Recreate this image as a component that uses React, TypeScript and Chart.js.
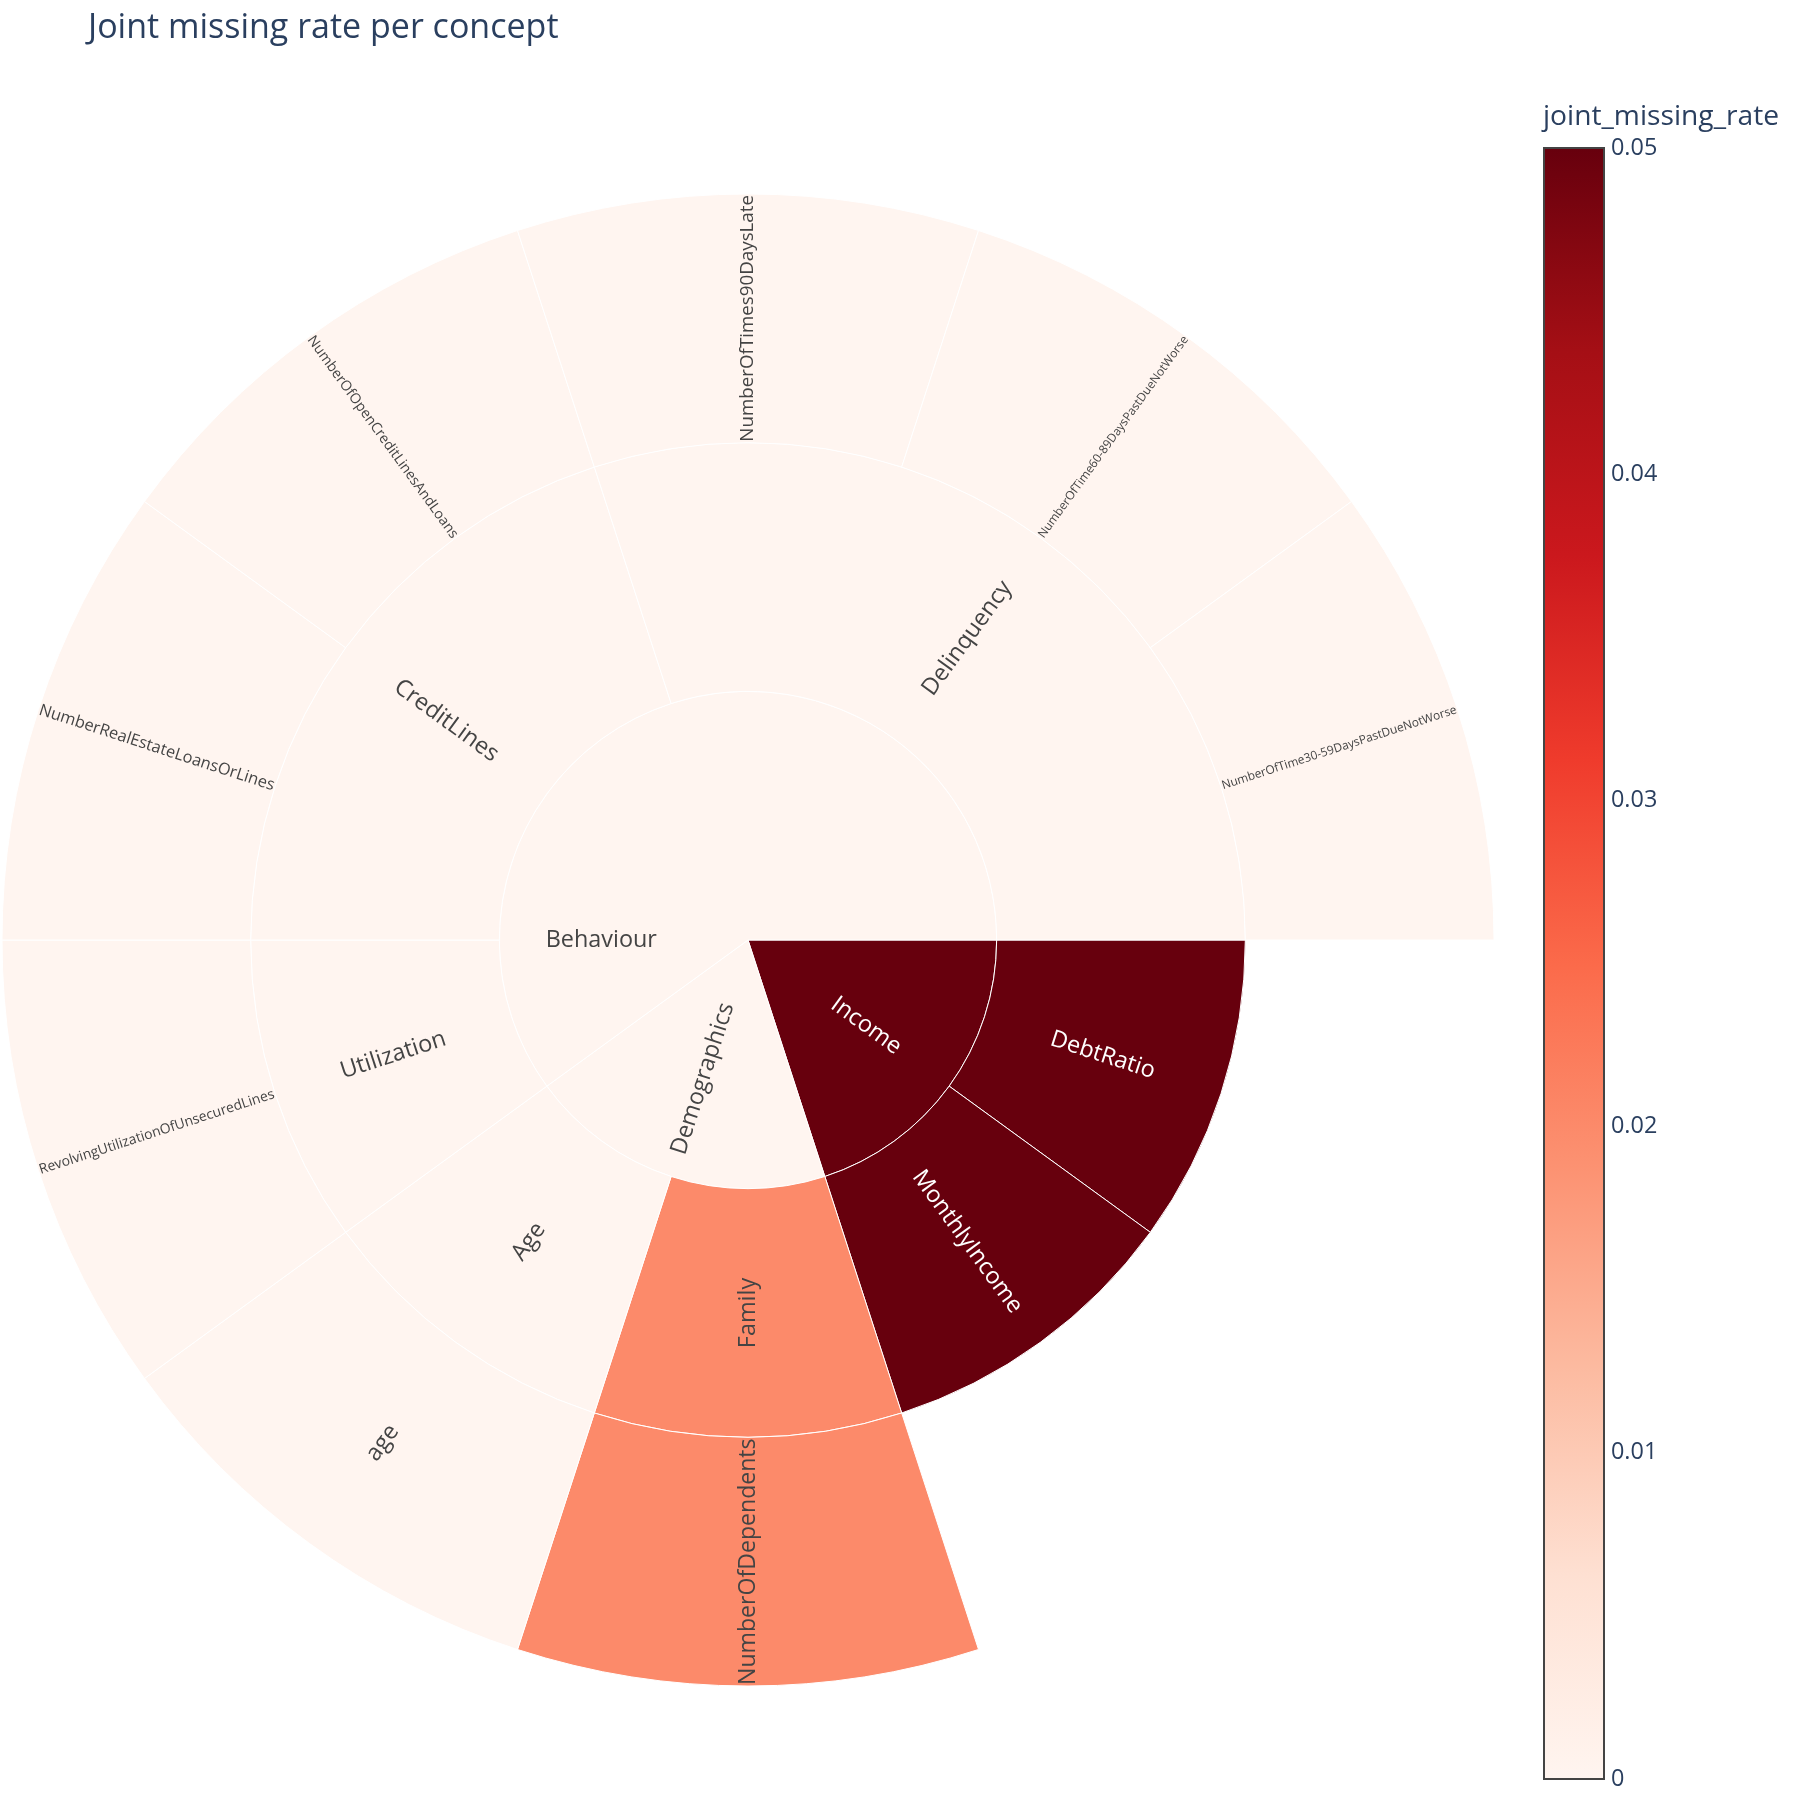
import React, { useEffect, useRef } from "react";
import { Chart, registerables } from "chart.js";

Chart.register(...registerables);

// ---------------- data ----------------
const chartTitle = "Joint missing rate per concept";
const colorbarTitle = "joint_missing_rate";

// innermost ring (top-level groups)
const groupNames = ["Behaviour", "Demographics", "Income"];
const groupRates = [0, 0, 0.05];

// middle ring (concepts) with their parent group
const conceptNames = ["Delinquency", "CreditLines", "Utilization", "Age", "Family", "MonthlyIncome", "DebtRatio"];
const conceptGroups = ["Behaviour", "Behaviour", "Behaviour", "Demographics", "Demographics", "Income", "Income"];
const conceptRates = [0, 0, 0, 0, 0.02, 0.05, 0.05];

// outer ring (features) with their parent concept
const featureNames = [
  "NumberOfTime30-59DaysPastDueNotWorse",
  "NumberOfTime60-89DaysPastDueNotWorse",
  "NumberOfTimes90DaysLate",
  "NumberOfOpenCreditLinesAndLoans",
  "NumberRealEstateLoansOrLines",
  "RevolvingUtilizationOfUnsecuredLines",
  "age",
  "NumberOfDependents",
];
const featureConcepts = ["Delinquency", "Delinquency", "Delinquency", "CreditLines", "CreditLines", "Utilization", "Age", "Family"];
const featureRates = [0, 0, 0, 0, 0, 0, 0, 0.02];

const colorMin = 0;
const colorMax = 0.05;
const colorbarTicks = [0, 0.01, 0.02, 0.03, 0.04, 0.05];

const REDS = [
  [255, 245, 240], [254, 224, 210], [252, 187, 161], [252, 146, 114], [251, 106, 74],
  [239, 59, 44], [203, 24, 29], [165, 15, 21], [103, 0, 13],
];

// ---------------- helpers ----------------
function redsRGB(v: number): number[] {
  const t = Math.max(0, Math.min(1, (v - colorMin) / (colorMax - colorMin)));
  const pos = t * (REDS.length - 1);
  const i = Math.min(Math.floor(pos), REDS.length - 2);
  const f = pos - i;
  return REDS[i].map((a, k) => Math.round(a + (REDS[i + 1][k] - a) * f));
}
function redsColor(v: number): string {
  const c = redsRGB(v);
  return `rgb(${c[0]},${c[1]},${c[2]})`;
}
function textColorFor(v: number): string {
  const c = redsRGB(v);
  const lum = (0.299 * c[0] + 0.587 * c[1] + 0.114 * c[2]) / 255;
  return lum < 0.5 ? "#ffffff" : "#444444";
}

type Node = { label: string | null; value: number; rate: number | null };

const featureCount = (c: string) => featureConcepts.filter((fc) => fc === c).length;
const conceptSize = (c: string) => Math.max(1, featureCount(c));
const groupSize = (g: string) =>
  conceptNames.reduce((s, c, i) => s + (conceptGroups[i] === g ? conceptSize(c) : 0), 0);

function buildRings(): Node[][] {
  const ring1: Node[] = groupNames.map((g, i) => ({ label: g, value: groupSize(g), rate: groupRates[i] }));
  const ring2: Node[] = conceptNames.map((c, i) => ({ label: c, value: conceptSize(c), rate: conceptRates[i] }));
  const ring3: Node[] = [];
  conceptNames.forEach((c) => {
    if (featureCount(c) > 0) {
      featureNames.forEach((f, j) => {
        if (featureConcepts[j] === c) ring3.push({ label: f, value: 1, rate: featureRates[j] });
      });
    } else {
      ring3.push({ label: null, value: conceptSize(c), rate: null });
    }
  });
  // plotly draws counter-clockwise from 3 o'clock; chart.js draws clockwise -> reverse
  return [ring3.reverse(), ring2.reverse(), ring1.reverse()];
}

const FONT = '"Open Sans", "DejaVu Sans", sans-serif';
const MAX_LABEL = 23.4;

const sunburstPlugin = {
  id: "sunburstDecor",
  afterDatasetsDraw(chart: any) {
    const ctx: CanvasRenderingContext2D = chart.ctx;
    chart.data.datasets.forEach((ds: any, di: number) => {
      const meta = chart.getDatasetMeta(di);
      meta.data.forEach((arc: any, i: number) => {
        const node: Node = ds.nodes[i];
        if (!node || !node.label) return;
        const p = arc.getProps(["x", "y", "startAngle", "endAngle", "innerRadius", "outerRadius"], true);
        const isInner = p.innerRadius < 1;
        const span = p.endAngle - p.startAngle;
        let mid = (p.startAngle + p.endAngle) / 2;
        while (mid > Math.PI) mid -= 2 * Math.PI;
        while (mid <= -Math.PI) mid += 2 * Math.PI;
        let r: number, ang: number, rot: number, avail: number;
        if (isInner && span > Math.PI) {
          ang = Math.PI;
          r = p.outerRadius * 0.59;
          rot = 0;
          avail = p.outerRadius * 0.8;
        } else {
          ang = mid;
          r = isInner ? p.outerRadius * 0.587 : (p.innerRadius + p.outerRadius) / 2;
          avail = isInner ? p.outerRadius * 0.8 : p.outerRadius - p.innerRadius - 2;
          if (mid >= Math.PI / 2 - 1e-6) rot = mid - Math.PI;
          else if (mid < -Math.PI / 2 - 1e-6) rot = mid + Math.PI;
          else rot = mid;
        }
        ctx.save();
        ctx.font = `100px ${FONT}`;
        const w100 = ctx.measureText(node.label).width;
        const size = Math.min(MAX_LABEL, (avail * 100) / w100);
        ctx.font = `${size}px ${FONT}`;
        ctx.fillStyle = textColorFor(node.rate ?? 0);
        ctx.textAlign = "center";
        ctx.textBaseline = "middle";
        ctx.translate(p.x + r * Math.cos(ang), p.y + r * Math.sin(ang));
        ctx.rotate(rot);
        ctx.fillText(node.label, 0, 0);
        ctx.restore();
      });
    });
  },
  afterDraw(chart: any) {
    const ctx: CanvasRenderingContext2D = chart.ctx;
    ctx.save();
    // title
    ctx.fillStyle = "#2a3f5f";
    ctx.font = `34px ${FONT}`;
    ctx.textAlign = "left";
    ctx.textBaseline = "alphabetic";
    ctx.fillText(chartTitle, 88, 38);

    // colorbar
    const cbLeft = 1544, cbRight = 1604, cbTop = 148, cbBottom = 1779;
    const grad = ctx.createLinearGradient(0, cbBottom, 0, cbTop);
    REDS.forEach((c, k) => grad.addColorStop(k / (REDS.length - 1), `rgb(${c[0]},${c[1]},${c[2]})`));
    ctx.fillStyle = grad;
    ctx.fillRect(cbLeft, cbTop, cbRight - cbLeft, cbBottom - cbTop);
    ctx.strokeStyle = "#444444";
    ctx.lineWidth = 2;
    ctx.strokeRect(cbLeft, cbTop, cbRight - cbLeft, cbBottom - cbTop);

    ctx.fillStyle = "#2a3f5f";
    ctx.font = `23.4px ${FONT}`;
    ctx.textBaseline = "middle";
    colorbarTicks.forEach((v) => {
      const y = cbBottom - ((v - colorMin) / (colorMax - colorMin)) * (cbBottom - cbTop);
      ctx.fillText(String(v), 1611, y);
    });

    ctx.font = `28.2px ${FONT}`;
    ctx.textBaseline = "alphabetic";
    ctx.fillText(colorbarTitle, 1543, 125);
    ctx.restore();
  },
};

export default function App() {
  const canvasRef = useRef<HTMLCanvasElement | null>(null);

  useEffect(() => {
    if (!canvasRef.current) return;
    const rings = buildRings();
    const datasets = rings.map((ring) => ({
      data: ring.map((n) => n.value),
      nodes: ring,
      backgroundColor: ring.map((n) => (n.rate === null ? "rgba(0,0,0,0)" : redsColor(n.rate))),
      borderColor: ring.map((n) => (n.rate === null ? "rgba(0,0,0,0)" : "#ffffff")),
      borderWidth: ring.map((n) => (n.rate === null ? 0 : 1)),
      weight: 1,
    }));
    const chart = new Chart(canvasRef.current, {
      type: "doughnut",
      data: {
        labels: rings[0].map((n, i) => n.label ?? `gap${i}`),
        datasets: datasets as any,
      },
      options: {
        responsive: false,
        maintainAspectRatio: false,
        animation: false,
        events: [],
        rotation: 90,
        circumference: 360,
        cutout: 0,
        radius: 746,
        layout: { padding: { left: 0, right: 304, top: 80, bottom: 0 } },
        plugins: {
          legend: { display: false },
          tooltip: { enabled: false },
          title: { display: false },
        },
      } as any,
      plugins: [sunburstPlugin],
    });
    return () => chart.destroy();
  }, []);

  return (
    <div style={{ position: "fixed", left: 0, top: 0, width: 1800, height: 1800, background: "#ffffff" }}>
      <canvas ref={canvasRef} width={1800} height={1800} style={{ width: 1800, height: 1800, display: "block" }} />
    </div>
  );
}
